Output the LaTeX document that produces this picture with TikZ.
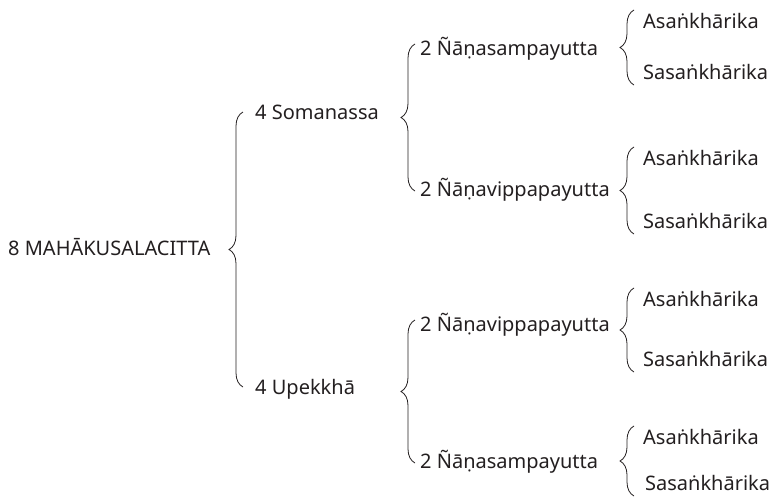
\documentclass[tikz,border=0pt]{standalone}
\usepackage{fontspec}
\setmainfont{Noto Sans}
\usetikzlibrary{decorations.pathreplacing}
\definecolor{ink}{RGB}{35,31,32}
\begin{document}
\begin{tikzpicture}[x=1pt,y=-1pt,
  txt/.style={anchor=base west,inner sep=0pt,text=ink,font=\fontsize{20}{24}\selectfont},
  grp/.style={draw=ink,line width=0.8pt,decorate,decoration={brace,amplitude=#1}},
  grp/.default=14pt]
\useasboundingbox (0,0) rectangle (771,499);
\node[txt] (root) at (8,255) {8 MAHĀKUSALACITTA};

\node[txt] (som) at (255,119) {4 Somanassa};
\node[txt] (upe) at (255,394) {4 Upekkhā};

\node[txt] (som-s) at (420,55) {2 Ñāṇasampayutta};
\node[txt] (som-v) at (420,196) {2 Ñāṇavippapayutta};
\node[txt] (upe-v) at (420,331) {2 Ñāṇavippapayutta};
\node[txt] (upe-s) at (420,468) {2 Ñāṇasampayutta};

\node[txt] (ss-a) at (643,28) {Asaṅkhārika};
\node[txt] (ss-s) at (643,79) {Sasaṅkhārika};
\node[txt] (sv-a) at (643,165) {Asaṅkhārika};
\node[txt] (sv-s) at (643,228) {Sasaṅkhārika};
\node[txt] (uv-a) at (643,306) {Asaṅkhārika};
\node[txt] (uv-s) at (643,366) {Sasaṅkhārika};
\node[txt] (us-a) at (643,444) {Asaṅkhārika};
\node[txt] (us-s) at (645,490) {Sasaṅkhārika};

%\path (root) -- (som);
\draw[grp] ([shift={(-12,-7)}]upe.base west) -- ([shift={(-12,-7)}]som.base west);

\draw[grp] ([shift={(-5,-5)}]som-v.base west) -- ([shift={(-5,-11)}]som-s.base west);
\draw[grp] ([shift={(-5,-5)}]upe-s.base west) -- ([shift={(-5,-11)}]upe-v.base west);

\draw[grp] ([shift={(-9,6)}]ss-s.base west) -- ([shift={(-9,-18)}]ss-a.base west);
\draw[grp] ([shift={(-9,6)}]sv-s.base west) -- ([shift={(-9,-18)}]sv-a.base west);
\draw[grp] ([shift={(-9,6)}]uv-s.base west) -- ([shift={(-9,-18)}]uv-a.base west);
\draw[grp] ([shift={(-9,6)}]us-a.base west |- us-s.base) -- ([shift={(-9,-18)}]us-a.base west);
\end{tikzpicture}
\end{document}
